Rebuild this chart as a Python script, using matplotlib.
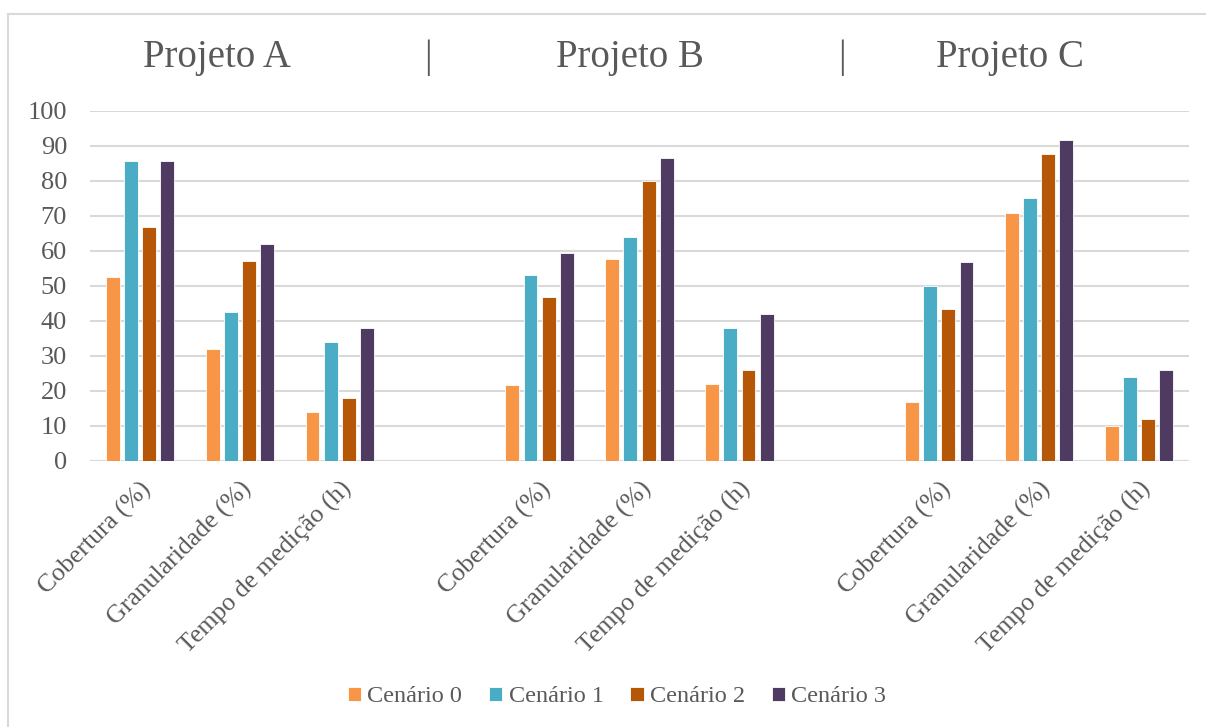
import matplotlib
matplotlib.use("Agg")
import matplotlib.pyplot as plt
import numpy as np
from matplotlib.lines import Line2D

# --- data -------------------------------------------------------------
projects = ["Projeto A", "Projeto B", "Projeto C"]
metrics = ["Cobertura (%)", "Granularidade (%)", "Tempo de medição (h)"]
scenarios = ["Cenário 0", "Cenário 1", "Cenário 2", "Cenário 3"]

# values per scenario, ordered project by project, metric by metric
cenario_0 = [52.4, 32.0, 14.0, 21.7, 57.6, 22.0, 16.7, 70.8, 10.0]
cenario_1 = [85.7, 42.5, 34.0, 53.1, 64.0, 38.0, 50.0, 75.0, 24.0]
cenario_2 = [66.7, 57.0, 18.0, 46.9, 80.0, 26.0, 43.3, 87.5, 12.0]
cenario_3 = [85.7, 62.0, 38.0, 59.4, 86.4, 42.0, 56.7, 91.7, 26.0]
series = [cenario_0, cenario_1, cenario_2, cenario_3]

y_ticks = [0, 10, 20, 30, 40, 50, 60, 70, 80, 90, 100]

colors = ["#F79646", "#4BACC6", "#B65708", "#4F3B62"]
text_color = "#595959"
grid_color = "#D9D9D9"

plt.rcParams["font.family"] = ["Liberation Serif", "DejaVu Serif"]

W, H = 1206, 727
fig = plt.figure(figsize=(W / 100, H / 100), dpi=100)

# axes placed in pixel coordinates
left_px, right_px, top_px, bottom_px = 90, 1189, 110.7, 460.7
ax = fig.add_axes([left_px / W, 1 - bottom_px / H,
                   (right_px - left_px) / W, (bottom_px - top_px) / H])

# category slots: three metrics per project, one empty slot between projects
positions = []
labels = []
slot = 0
for p_idx, _ in enumerate(projects):
    for m in metrics:
        positions.append(slot)
        labels.append(m)
        slot += 1
    slot += 1
positions = np.array(positions, dtype=float)

pitch = 0.182
bar_w = 0.14
for i, (vals, col, name) in enumerate(zip(series, colors, scenarios)):
    offs = (i - 1.5) * pitch
    ax.bar(positions + offs, vals, width=bar_w, color=col,
           edgecolor="white", linewidth=0.6, label=name, zorder=3)

ax.set_xlim(-0.5, 10.5)
ax.set_ylim(0, 100)
ax.set_yticks(y_ticks)
ax.set_yticklabels([str(t) for t in y_ticks])
ax.yaxis.grid(True, color=grid_color, linewidth=1.5, zorder=0)
ax.set_axisbelow(True)
for s in ax.spines.values():
    s.set_visible(False)
ax.tick_params(axis="y", length=0, pad=16.5, labelsize=19, labelcolor=text_color)
ax.tick_params(axis="x", length=0, pad=12, labelsize=18.5, labelcolor=text_color)
ax.set_xticks(positions)
ax.set_xticklabels(labels, rotation=45, ha="right", va="top",
                   rotation_mode="anchor")
ax.axhline(0, color=grid_color, linewidth=1.5, zorder=2)

# title row
title_y = 1 - 58 / H
fig.text(217 / W, title_y, "Projeto A", ha="center", va="center",
         fontsize=28, color=text_color)
fig.text(428 / W, title_y, "|", ha="center", va="center",
         fontsize=28, color=text_color)
fig.text(630 / W, title_y, "Projeto B", ha="center", va="center",
         fontsize=28, color=text_color)
fig.text(842 / W, title_y, "|", ha="center", va="center",
         fontsize=28, color=text_color)
fig.text(1010 / W, title_y, "Projeto C", ha="center", va="center",
         fontsize=28, color=text_color)

# legend
leg = fig.legend(loc="center", bbox_to_anchor=(617 / W, 1 - 697 / H),
                 ncol=4, frameon=False, fontsize=17.5,
                 handlelength=0.55, handleheight=0.55, handletextpad=0.25,
                 columnspacing=1.1)
for t in leg.get_texts():
    t.set_color(text_color)

# chart-area border (top and left edges)
fig.add_artist(Line2D([8 / W, 1.0], [1 - 14 / H, 1 - 14 / H],
                      transform=fig.transFigure, color=grid_color, linewidth=1.5))
fig.add_artist(Line2D([8 / W, 8 / W], [0.0, 1 - 14 / H],
                      transform=fig.transFigure, color=grid_color, linewidth=1.5))

fig.savefig("out.png", dpi=100, facecolor="white")
